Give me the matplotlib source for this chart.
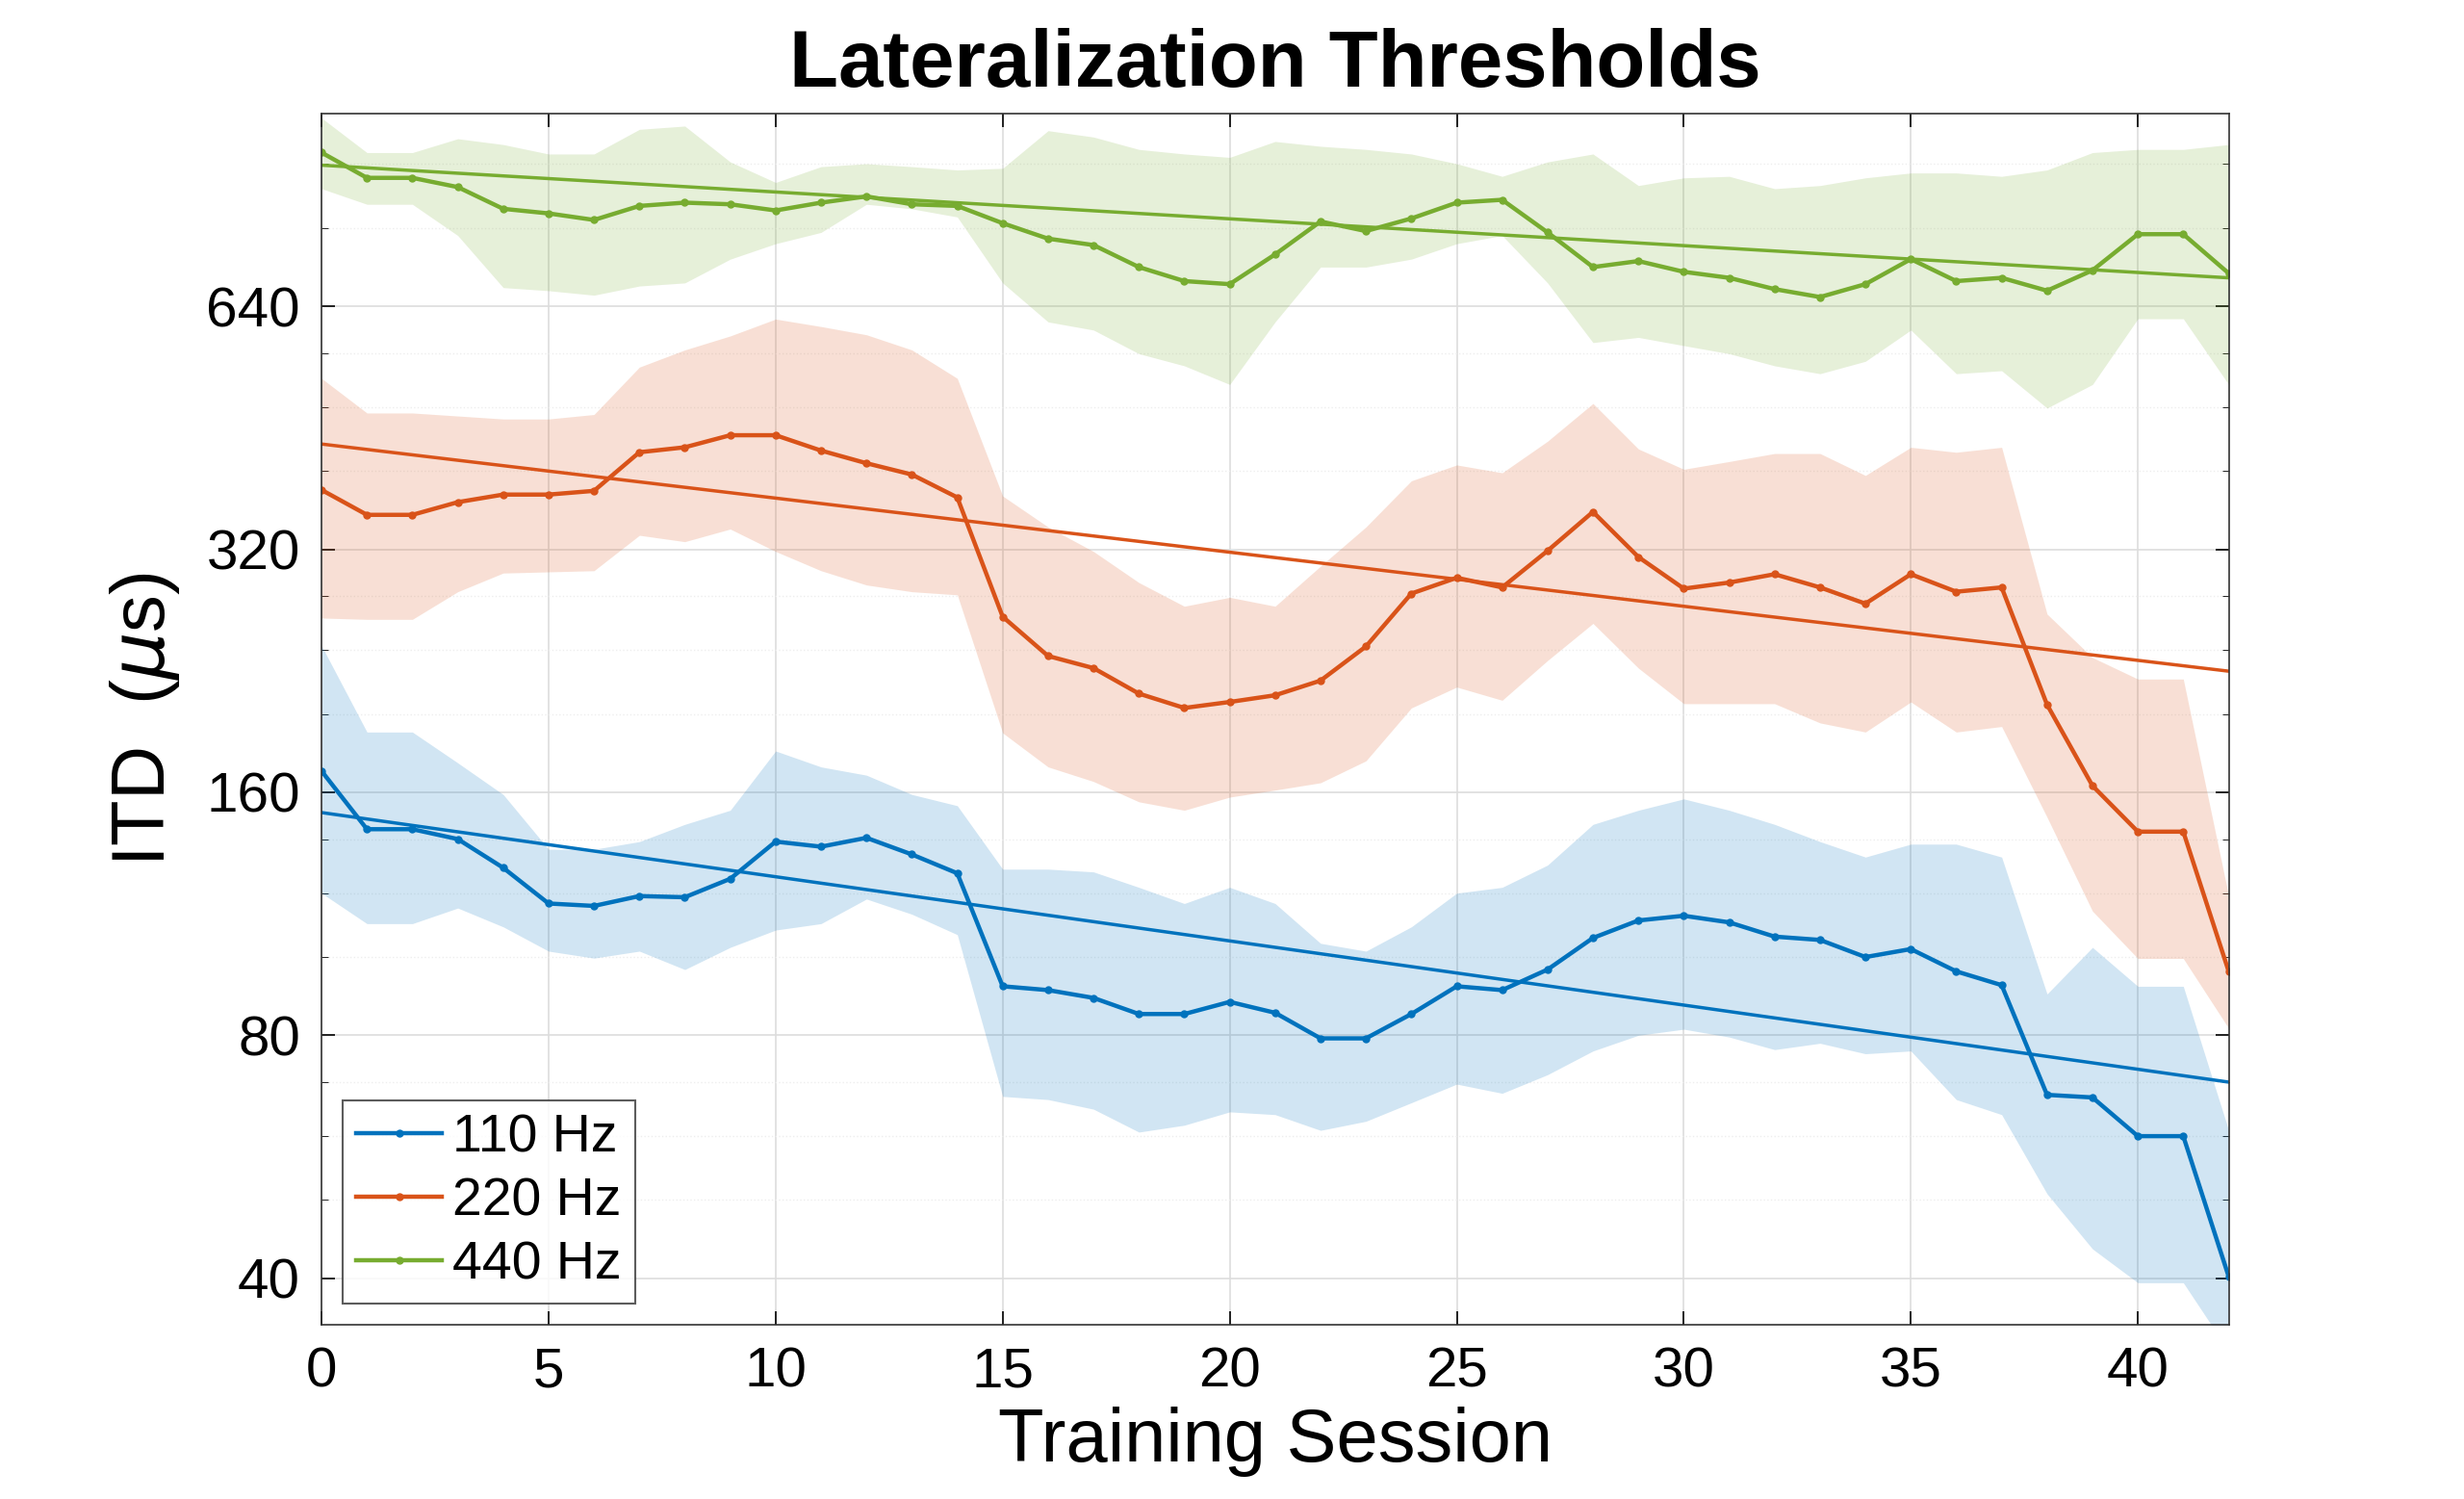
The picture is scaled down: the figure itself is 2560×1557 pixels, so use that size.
import numpy as np
import matplotlib
matplotlib.use("Agg")
import matplotlib.pyplot as plt
from matplotlib.ticker import FixedLocator, NullFormatter

plt.rcParams['font.family'] = ['Liberation Sans', 'DejaVu Sans']
plt.rcParams['mathtext.fontset'] = 'dejavusans'

sessions = np.arange(43)
labels = ["110 Hz", "220 Hz", "440 Hz"]
colors = ["#0072BD", "#D95319", "#77AC30"]

itd_110 = [170,144,144,140,129,116.5,115.7,119,118.6,125,139,137,140.5,134,127,92,91,89,85,85,88,85.3,79.3,79.3,85,92,91,96.5,105.6,111,112.5,110.4,106,105,100,102.3,96,92.3,67.5,67,60,60,40.2]
hi_110 = [243,190,190,174,159,136,136,139,146,152,180,172,168,159,154,128.5,128.5,127.5,122,116.5,122,116.5,104,101.7,109,120,122,130,146,152,157,152,146,139,133,138,138,133,90,102.8,92,92,61]
lo_110 = [120,110,110,115,109,101.7,99.7,101.7,96.5,102.8,108,110,118,113,106.6,67.2,66.6,64.8,60.7,61.9,64.3,63.8,61,62.6,66,69.6,67.8,71.5,76.5,80,81.4,79.6,76.8,78.2,75.9,76.5,66.6,63.8,50.9,43.5,39.5,39.5,32.5]

itd_220 = [379,353,353,366,374,374,378,422,428,443,443,424,409,396,371,264,236,228,212,203.5,207,211,220,242.5,282,295,287,318.6,356,313,286,291,298,287,274,298,283.5,287,205.4,163,143,143,96]
hi_220 = [521,472,472,468,464,464,470,538,565,588,617,604,590,565,521,372.5,341,318,291,272,279,272,305,341,389,407,398,435.5,485,426,402,411,420.5,420.5,395,428,422,428,266,235,221,221,119]
lo_220 = [263,262,262,283.5,299,300,301,333,327,339,318,301,289,283.5,281,189.5,172,165,155.7,152,157.8,161,164.4,175,203.5,216,208,233,259,228,206,206,206,195,190,207,190,193,149,114,99.6,99.6,81.6]

itd_440 = [992,923,923,899,845,834,818.6,852,860,856,841,860,875.5,856,852,811,776,762,715.6,687.6,681.6,742,815,793,822,860,867,790,715.6,728,706,694,672,657,681.6,732,687.6,694,669,709,786,786,703]
hi_440 = [1095,992,992,1032,1015,988,988,1060,1070,966,911,953,961,953,944,948.5,1056,1037,1001,988,978.5,1024,1010,1001,988,961,927,966,988,903,923,927,895,903,923,936,936,927,944,992,1001,1001,1015]
lo_440 = [895,856,856,783,675,669,660.5,678,684,732,765,790,856,845,825.6,684,612,598,559,540,512,612,715.6,715.6,732,765,783,684,577,585.6,572,559,540,528,547,598,528,532.5,478.7,512,617.6,617.6,512]

# trend line end values (session 0 and 42)
trend_x = [0, 42]
trend_110 = [151, 70]
trend_220 = [432, 226]
trend_440 = [957, 694]

series = [(itd_110, hi_110, lo_110, trend_110), (itd_220, hi_220, lo_220, trend_220),
          (itd_440, hi_440, lo_440, trend_440)]

fig = plt.figure(figsize=(25.6, 15.57), dpi=100)
ax = fig.add_axes([0.1305, 0.116, 0.774, 0.8085])
ax.set_yscale('log', base=2)

for (m, hi, lo, t), c, lab in zip(series, colors, labels):
    ax.fill_between(sessions, lo, hi, color=c, alpha=0.18, linewidth=0)
for (m, hi, lo, t), c, lab in zip(series, colors, labels):
    ax.plot(sessions, m, '-o', color=c, lw=3.2, ms=5, label=lab)
    ax.plot(trend_x, t, '-', color=c, lw=2.5)

ax.set_xlim(0, 42)
ax.set_ylim(35, 1110)
ax.yaxis.set_major_locator(FixedLocator([40, 80, 160, 320, 640]))
ax.yaxis.set_major_formatter(matplotlib.ticker.FuncFormatter(lambda v, p: f"{int(v)}"))
minors = [v * f for v in [40, 80, 160, 320, 640] for f in [1.25, 1.5, 1.75]]
ax.yaxis.set_minor_locator(FixedLocator(minors))
ax.yaxis.set_minor_formatter(NullFormatter())
ax.set_xticks(range(0, 41, 5))
ax.grid(True, which='major', color='#dddddd', lw=1.2)
ax.grid(True, which='minor', axis='y', color='#eeeeee', lw=1, ls=':')
ax.set_axisbelow(True)
ax.tick_params(direction='in', top=True, right=True, labelsize=42, length=10, width=1.2, pad=16)
ax.tick_params(which='minor', direction='in', right=True, length=5)
for s in ax.spines.values():
    s.set_color('#333333'); s.set_linewidth(1.2)

ax.set_xlabel("Training Session", fontsize=56, labelpad=6)
ax.set_ylabel("ITD  ($\\mu$s)", fontsize=56, labelpad=18)
ax.set_title("Lateralization Thresholds", fontsize=60, fontweight='bold', pad=20)
leg = ax.legend(loc='lower left', fontsize=40, frameon=True, fancybox=False, edgecolor='#333333',
                handlelength=1.6, borderpad=0.25, labelspacing=0.25, handletextpad=0.2, borderaxespad=0.4)
leg.get_frame().set_linewidth(1.5)

fig.savefig("out.png", dpi=100, facecolor='white')
